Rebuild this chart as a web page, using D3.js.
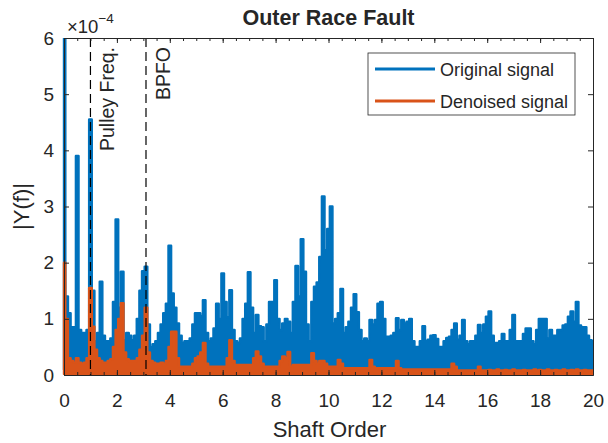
<!DOCTYPE html>
<html><head><meta charset="utf-8">
<script src="https://cdn.jsdelivr.net/npm/d3@7"></script>
<style>body{margin:0;background:#fff} text{font-family:"Liberation Sans",Arial,Helvetica,sans-serif;fill:#262626}</style>
</head><body><svg id="c" width="608" height="443"></svg>
<script>
// shaft-order step of the sampled spectra
const orderStep = 0.1;
// |Y(f)| upper envelope, x1e-4, one value every 0.1 shaft order (0..20)
const originalPeak = [
  6.5, 1.4, 1.1, 0.85, 0.85, 3.9, 0.8, 0.75, 0.75, 0.8,
  4.55, 1.5, 0.6, 0.75, 1.66, 0.7, 0.6, 0.6, 0.65, 1.3,
  2.77, 1.2, 1.84, 0.62, 0.75, 0.7, 0.62, 0.7, 1.0, 1.5,
  1.85, 1.93, 0.9, 0.5, 0.55, 0.6, 0.75, 0.9, 1.1, 1.27,
  2.3, 1.45, 1.2, 0.92, 0.7, 0.57, 0.6, 0.6, 0.65, 0.9,
  1.1, 1.1, 1.05, 1.33, 0.75, 0.6, 0.65, 0.83, 1.27, 1.0,
  1.81, 1.3, 1.03, 1.51, 0.8, 0.6, 0.57, 0.65, 1.0, 1.27,
  1.83, 1.2, 0.75, 1.07, 0.87, 0.85, 0.6, 0.9, 1.3, 1.3,
  1.69, 1.0, 0.8, 0.92, 1.0, 0.95, 0.75, 1.3, 1.94, 1.4,
  2.42, 1.84, 0.9, 0.6, 1.3, 1.57, 1.65, 2.1, 3.18, 2.22,
  2.6, 3.0, 0.92, 1.0, 1.1, 1.53, 0.75, 0.85, 0.95, 1.2,
  1.44, 1.12, 0.8, 0.6, 0.65, 0.6, 0.98, 0.9, 0.98, 1.27,
  1.3, 1.0, 0.68, 0.68, 0.7, 0.75, 1.01, 0.8, 0.98, 0.92,
  0.95, 1.0, 0.6, 0.5, 0.5, 0.6, 0.87, 0.6, 0.63, 0.7,
  0.71, 0.64, 0.5, 0.5, 0.6, 0.66, 0.68, 0.8, 0.92, 0.63,
  0.7, 0.98, 0.6, 0.55, 0.6, 0.6, 0.7, 0.89, 0.75, 0.9,
  1.04, 1.13, 0.7, 0.57, 0.57, 0.6, 0.73, 0.6, 0.6, 0.8,
  1.07, 0.6, 0.6, 0.6, 0.73, 0.83, 0.83, 0.6, 0.55, 0.8,
  1.0, 1.0, 1.0, 0.65, 0.8, 0.7, 0.7, 0.8, 0.8, 0.88,
  0.9, 1.04, 1.13, 0.95, 1.3, 0.88, 0.85, 0.85, 0.7, 0.62,
  0.6
];
// lower edge of the original signal band, one value per shaft order (0..20)
const originalFloor = [0.1,0.08,0.08,0.06,0.05,0.05,0.05,0.05,0.05,0.05,0.05,0.05,0.05,0.04,0.04,0.04,0.04,0.04,0.04,0.04,0.04];
const denoisedPeak = [
  2.0, 1.0, 0.3, 0.25, 0.22, 0.3, 0.22, 0.2, 0.22, 0.3,
  1.55, 0.86, 0.45, 0.3, 0.25, 0.22, 0.22, 0.25, 0.28, 0.5,
  0.8, 1.0, 1.28, 0.4, 0.28, 0.25, 0.25, 0.25, 0.3, 0.45,
  0.7, 1.2, 0.4, 0.25, 0.22, 0.2, 0.2, 0.22, 0.2, 0.25,
  0.5, 0.77, 0.77, 0.3, 0.15, 0.15, 0.15, 0.15, 0.15, 0.2,
  0.3, 0.33, 0.4, 0.57, 0.2, 0.15, 0.15, 0.15, 0.15, 0.15,
  0.15, 0.15, 0.3, 0.62, 0.25, 0.18, 0.18, 0.18, 0.18, 0.18,
  0.18, 0.18, 0.3, 0.42, 0.33, 0.2, 0.15, 0.15, 0.15, 0.15,
  0.15, 0.15, 0.25, 0.33, 0.3, 0.41, 0.15, 0.18, 0.18, 0.18,
  0.18, 0.18, 0.18, 0.18, 0.39, 0.25, 0.2, 0.25, 0.25, 0.2,
  0.15, 0.15, 0.15, 0.15, 0.27, 0.2, 0.12, 0.12, 0.12, 0.12,
  0.12, 0.12, 0.12, 0.12, 0.12, 0.12, 0.27, 0.15, 0.12, 0.12,
  0.12, 0.12, 0.12, 0.12, 0.12, 0.12, 0.25, 0.12, 0.1, 0.1,
  0.1, 0.1, 0.1, 0.1, 0.1, 0.1, 0.1, 0.1, 0.1, 0.1,
  0.1, 0.1, 0.1, 0.1, 0.1, 0.1, 0.1, 0.2, 0.15, 0.08,
  0.08, 0.08, 0.08, 0.08, 0.08, 0.08, 0.08, 0.15, 0.08, 0.08,
  0.08, 0.09, 0.08, 0.08, 0.1, 0.08, 0.08, 0.09, 0.08, 0.08,
  0.1, 0.08, 0.08, 0.08, 0.09, 0.08, 0.08, 0.08, 0.1, 0.08,
  0.09, 0.08, 0.08, 0.1, 0.08, 0.08, 0.09, 0.08, 0.08, 0.1,
  0.08, 0.08, 0.09, 0.08, 0.1, 0.08, 0.08, 0.09, 0.08, 0.08,
  0.08
];
const denoisedFloor = [0.02,0.02,0.02,0.02,0.02,0.02,0.02,0.02,0.02,0.02,0.02,0.02,0.02,0.02,0.02,0.02,0.02,0.02,0.02,0.02,0.02];
const seriesNames = ["Original signal", "Denoised signal"];
const seriesColors = ["#0072BD", "#D95319"];
const xTicks = [0,2,4,6,8,10,12,14,16,18,20];
const xMinorTicks = d3.range(0, 20.01, 0.5);
const yTicks = [0,1,2,3,4,5,6];
const markerOrders = [1.0, 3.1];
const markerLabels = ["Pulley Freq.", "BPFO"];

const svg = d3.select("#c");
const L = 64, R = 593, T = 38, B = 375;
const x = d3.scaleLinear().domain([0, 20]).range([L, R]);
const y = d3.scaleLinear().domain([0, 6]).range([B, T]);

svg.append("defs").append("clipPath").attr("id","clip")
  .append("rect").attr("x", L - 2).attr("y", T).attr("width", R - L + 2).attr("height", B - T);

function band(peak, floor) {
  return peak.map((v, i) => ({o: i * orderStep, hi: v, lo: floor[Math.round(i * orderStep)]}));
}
const area = d3.area().curve(d3.curveStep)
  .x(d => x(d.o)).y0(d => y(d.lo)).y1(d => y(d.hi));

const plot = svg.append("g").attr("clip-path", "url(#clip)");
[[originalPeak, originalFloor], [denoisedPeak, denoisedFloor]].forEach(([pk, fl], k) => {
  plot.append("path").datum(band(pk, fl)).attr("d", area)
    .attr("fill", seriesColors[k]).attr("stroke", seriesColors[k])
    .attr("stroke-width", 2.4).attr("stroke-linejoin", "round");
});

// marker lines
markerOrders.forEach((m, i) => {
  svg.append("line").attr("x1", x(m)).attr("x2", x(m)).attr("y1", T).attr("y2", B)
    .attr("stroke", "#000").attr("stroke-width", 1.2).attr("stroke-dasharray", "9,5");
  svg.append("text").attr("transform", `translate(${x(m) + 24},${T + 9}) rotate(-90)`)
    .attr("text-anchor", "end").attr("font-size", 19.5).text(markerLabels[i]);
});

// axes
const axCol = "#262626";
function styleAxis(g) {
  g.selectAll("path.domain").attr("stroke", axCol);
  g.selectAll(".tick line").attr("stroke", axCol);
  g.selectAll(".tick text").attr("font-size", 19).attr("fill", axCol);
}
svg.append("g").attr("transform", `translate(0,${B})`)
  .call(d3.axisBottom(x).tickValues(xMinorTicks).tickSize(-3).tickSizeOuter(0).tickFormat(""))
  .call(styleAxis);
svg.append("g").attr("transform", `translate(0,${B})`)
  .call(d3.axisBottom(x).tickValues(xTicks).tickSize(-5).tickSizeOuter(0).tickPadding(19).tickFormat(d3.format("d")))
  .call(styleAxis);
svg.append("g").attr("transform", `translate(0,${T})`)
  .call(d3.axisTop(x).tickValues(xMinorTicks).tickSize(-3).tickSizeOuter(0).tickFormat(""))
  .call(styleAxis);
svg.append("g").attr("transform", `translate(0,${T})`)
  .call(d3.axisTop(x).tickValues(xTicks).tickSize(-5).tickSizeOuter(0).tickFormat(""))
  .call(styleAxis);
svg.append("g").attr("transform", `translate(${L},0)`)
  .call(d3.axisLeft(y).tickValues(yTicks).tickSize(-5).tickSizeOuter(0).tickPadding(10).tickFormat(d3.format("d")))
  .call(styleAxis);
svg.append("g").attr("transform", `translate(${R},0)`)
  .call(d3.axisRight(y).tickValues(yTicks).tickSize(-5).tickSizeOuter(0).tickFormat(""))
  .call(styleAxis);

// exponent
const ex = svg.append("text").attr("x", L + 3).attr("y", 33).attr("font-size", 18.5);
ex.append("tspan").text("\u00d710");
ex.append("tspan").attr("dy", -10).attr("font-size", 13.5).text("\u22124");

// title and labels
svg.append("text").attr("x", (L + R) / 2).attr("y", 25).attr("text-anchor", "middle")
  .attr("font-size", 21.5).attr("font-weight", "bold").attr("fill", "#000").text("Outer Race Fault");
svg.append("text").attr("x", (L + R) / 2 + 1).attr("y", 437).attr("text-anchor", "middle")
  .attr("font-size", 22).text("Shaft Order");
svg.append("text").attr("transform", `translate(29,${(T + B) / 2}) rotate(-90)`)
  .attr("text-anchor", "middle").attr("font-size", 22).text("|Y(f)|");

// legend
const lg = svg.append("g");
lg.append("rect").attr("x", 368).attr("y", 53).attr("width", 207).attr("height", 62)
  .attr("fill", "#fff").attr("stroke", axCol).attr("stroke-width", 0.8);
seriesNames.forEach((n, i) => {
  const yy = 69 + i * 32;
  lg.append("line").attr("x1", 375).attr("x2", 435).attr("y1", yy).attr("y2", yy)
    .attr("stroke", seriesColors[i]).attr("stroke-width", 3);
  lg.append("text").attr("x", 440).attr("y", yy + 6.5).attr("font-size", 18).text(n);
});
</script></body></html>
